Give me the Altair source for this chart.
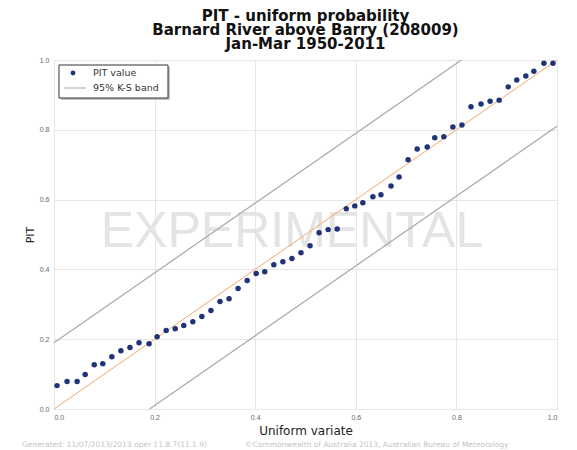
import altair as alt
import pandas as pd

# ---- data ----
uniform_u = [0.006, 0.026, 0.046, 0.062, 0.080, 0.097, 0.115, 0.133, 0.151, 0.169,
             0.189, 0.205, 0.223, 0.241, 0.258, 0.276, 0.294, 0.312, 0.330, 0.348,
             0.366, 0.384, 0.402, 0.419, 0.437, 0.455, 0.473, 0.491, 0.509, 0.527,
             0.545, 0.563, 0.581, 0.598, 0.614, 0.634, 0.650, 0.670, 0.686, 0.704,
             0.722, 0.742, 0.757, 0.775, 0.793, 0.811, 0.829, 0.849, 0.867, 0.885,
             0.903, 0.920, 0.938, 0.954, 0.974, 0.992]
pit_values = [0.067, 0.079, 0.079, 0.099, 0.127, 0.130, 0.150, 0.167, 0.176, 0.190,
              0.187, 0.207, 0.225, 0.230, 0.239, 0.250, 0.265, 0.282, 0.308, 0.316,
              0.345, 0.368, 0.388, 0.393, 0.413, 0.422, 0.431, 0.448, 0.468, 0.505,
              0.514, 0.516, 0.574, 0.582, 0.591, 0.608, 0.614, 0.639, 0.665, 0.714,
              0.745, 0.751, 0.777, 0.780, 0.808, 0.814, 0.866, 0.874, 0.882, 0.885,
              0.923, 0.943, 0.954, 0.968, 0.991, 0.991]

diag_u = [0.0, 1.0]
diag_p = [0.0, 1.0]
upper_u = [0.0, 0.81]
upper_p = [0.19, 1.0]
lower_u = [0.19, 1.0]
lower_p = [0.0, 0.81]

tick_values = [0.0, 0.2, 0.4, 0.6, 0.8, 1.0]
title_lines = ["PIT - uniform probability", "Barnard River above Barry (208009)", "Jan-Mar 1950-2011"]
legend_labels = ["PIT value", "95% K-S band"]

W, H = 503, 349

pts = pd.DataFrame({"u": uniform_u, "p": pit_values})
diag = pd.DataFrame({"u": diag_u, "p": diag_p})
band = pd.DataFrame({"u": upper_u + lower_u, "p": upper_p + lower_p,
                     "g": ["upper"] * 2 + ["lower"] * 2})
one = pd.DataFrame({"a": [0]})

xs = alt.Scale(domain=[0, 1], nice=False, zero=False)
ys = alt.Scale(domain=[0, 1], nice=False, zero=False)

xax = alt.Axis(values=tick_values, format=".1f", title="Uniform variate", grid=True,
               gridColor="#e6e6e6", ticks=False, labelFontSize=7, labelColor="#666",
               labelPadding=4, titleFontSize=12, titleFont="DejaVu Sans",
               titleFontWeight="normal", titleColor="#222", titlePadding=5, domain=False)
yax = alt.Axis(values=tick_values, format=".1f", title="PIT", grid=True,
               gridColor="#e6e6e6", ticks=False, labelFontSize=7, labelColor="#666",
               labelPadding=5, titleFontSize=11, titleFont="DejaVu Sans",
               titleFontWeight="normal", titleColor="#222", titlePadding=4, domain=False)

watermark = alt.Chart(one).mark_text(
    text="EXPERIMENTAL", font="Liberation Sans", fontSize=50, color="#e4e4e4",
    align="center", baseline="alphabetic"
).encode(x=alt.value(238), y=alt.value(187))

band_lines = alt.Chart(band).mark_line(color="#a8a8a8", strokeWidth=1.2).encode(
    x=alt.X("u:Q", scale=xs, axis=xax),
    y=alt.Y("p:Q", scale=ys, axis=yax),
    detail="g:N",
)
diag_line = alt.Chart(diag).mark_line(color="#f2a86a", strokeWidth=1).encode(
    x=alt.X("u:Q", scale=xs), y=alt.Y("p:Q", scale=ys)
)
points = alt.Chart(pts).mark_circle(color="#1f3478", size=30, opacity=1).encode(
    x=alt.X("u:Q", scale=xs), y=alt.Y("p:Q", scale=ys)
)

# legend box (drawn manually, matplotlib style)
leg_shadow = alt.Chart(one).mark_rect(fill="#9a9a9a", opacity=0.6).encode(
    x=alt.value(7), x2=alt.value(116), y=alt.value(7), y2=alt.value(40))
leg_box = alt.Chart(one).mark_rect(fill="white", stroke="#333", strokeWidth=1).encode(
    x=alt.value(5), x2=alt.value(114), y=alt.value(5), y2=alt.value(38))
leg_dot = alt.Chart(one).mark_circle(color="#1f3478", size=24, opacity=1).encode(
    x=alt.value(19), y=alt.value(13))
leg_rule = alt.Chart(one).mark_rule(color="#a8a8a8", strokeWidth=1).encode(
    x=alt.value(10), x2=alt.value(32), y=alt.value(28))
leg_t1 = alt.Chart(one).mark_text(text=legend_labels[0], fontSize=9.5, color="#333",
                                  align="left", baseline="middle",
                                  font="DejaVu Sans").encode(x=alt.value(39), y=alt.value(13))
leg_t2 = alt.Chart(one).mark_text(text=legend_labels[1], fontSize=9.5, color="#333",
                                  align="left", baseline="middle",
                                  font="DejaVu Sans").encode(x=alt.value(39), y=alt.value(28))

foot1 = alt.Chart(one).mark_text(text="Generated: 11/07/2013/2013 oper 11.8.7(11.1.9)",
                                 fontSize=7.5, color="#c4c4c4", align="left", baseline="middle",
                                 font="DejaVu Sans").encode(x=alt.value(-32), y=alt.value(385))
foot2 = alt.Chart(one).mark_text(text="©Commonwealth of Australia 2013, Australian Bureau of Meteorology",
                                 fontSize=7.5, color="#c4c4c4", align="left", baseline="middle",
                                 font="DejaVu Sans").encode(x=alt.value(191), y=alt.value(385))

chart = alt.layer(
    watermark, band_lines, diag_line, points,
    leg_shadow, leg_box, leg_dot, leg_rule, leg_t1, leg_t2, foot1, foot2
).properties(
    width=W, height=H,
    title=alt.TitleParams(text=title_lines, fontSize=15, font="DejaVu Sans",
                          fontWeight="bold", anchor="middle", offset=4,
                          lineHeight=14, color="#111"),
    autosize=alt.AutoSizeParams(type="none"),
    padding={"left": 46, "top": 52, "right": 12, "bottom": 41},
).configure_view(stroke="#333", strokeWidth=1.2).configure(background="white")

chart.save("out.html", embed_options={"renderer": "svg", "actions": False})
